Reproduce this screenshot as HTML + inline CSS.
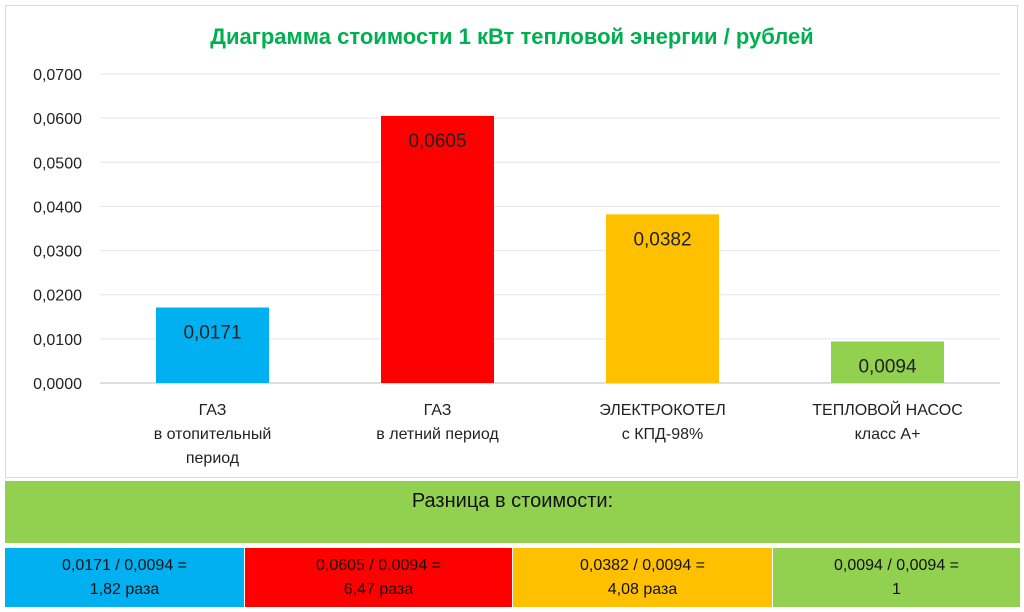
<!DOCTYPE html>
<html><head><meta charset="utf-8"><style>
body{margin:0;width:1024px;height:612px;background:#fff;font-family:"Liberation Sans","DejaVu Sans",sans-serif;position:relative;overflow:hidden}
.cell{position:absolute;top:548px;height:59px;display:flex;align-items:center;justify-content:center;text-align:center;font-size:16px;line-height:24px;color:#111}
</style></head><body>
<div style="position:absolute;left:5px;top:5px;width:1013px;height:473px;border:1px solid #d9d9d9;box-sizing:border-box"></div>
<svg width="1024" height="480" style="position:absolute;left:0;top:0">
<text x="512" y="44" text-anchor="middle" font-size="22" font-weight="bold" fill="#00b050" font-family="Liberation Sans,sans-serif">Диаграмма стоимости 1 кВт тепловой энергии / рублей</text>
<g id="grid"></g><g id="bars"></g><g id="labels"></g>
</svg>
<div style="position:absolute;left:5px;top:481px;width:1015px;height:62px;background:#92d050;text-align:center;font-size:20px;line-height:40px;color:#111">Разница в стоимости:</div>
<div class="cell" style="left:5px;width:239px;background:#00b0f0">0,0171 / 0,0094 =<br>1,82 раза</div>
<div class="cell" style="left:245px;width:267px;background:#ff0000">0,0605 / 0,0094 =<br>6,47 раза</div>
<div class="cell" style="left:513px;width:259px;background:#ffc000">0,0382 / 0,0094 =<br>4,08 раза</div>
<div class="cell" style="left:773px;width:247px;background:#92d050">0,0094 / 0,0094 =<br>1</div>
<script>
const categories=[["ГАЗ","в отопительный","период"],["ГАЗ","в летний период"],["ЭЛЕКТРОКОТЕЛ","с КПД-98%"],["ТЕПЛОВОЙ НАСОС","класс А+"]];
const values=[0.0171,0.0605,0.0382,0.0094];
const valueLabels=["0,0171","0,0605","0,0382","0,0094"];
const colors=["#00b0f0","#ff0000","#ffc000","#92d050"];
const ticks=[0,0.01,0.02,0.03,0.04,0.05,0.06,0.07];
const tickLabels=["0,0000","0,0100","0,0200","0,0300","0,0400","0,0500","0,0600","0,0700"];
const NS="http://www.w3.org/2000/svg";
const x0=100,x1=1000,y0=383,y7=74,max=0.07;
const y=v=>y0-(v/max)*(y0-y7);
const bw=(x1-x0)/categories.length;
function mk(t,a,p){const e=document.createElementNS(NS,t);for(const k in a)e.setAttribute(k,a[k]);p.appendChild(e);return e;}
const g=document.getElementById('grid'),b=document.getElementById('bars'),l=document.getElementById('labels');
ticks.forEach((t,i)=>{
 const ln=mk('line',{x1:x0,x2:x1,y1:y(t),y2:y(t),stroke:i==0?'#bfbfbf':'#e3e6ec','stroke-width':1},g);
 
 
 const tx=mk('text',{x:82,y:y(t)+6,'text-anchor':'end','font-size':16,fill:'#222'},g);
 tx.textContent=tickLabels[i];
 
 
});
values.forEach((v,i)=>{
 const cx=x0+bw*(i+0.5),w=113;
 const r=mk('rect',{x:cx-w/2,y:y(v),width:w,height:y0-y(v),fill:colors[i]},b);
 
 
 const vt=mk('text',{x:cx,y:y(v)+31,'text-anchor':'middle','font-size':19,fill:'#222'},l);
 vt.textContent=valueLabels[i];
 
 
 categories[i].forEach((s,j)=>{
  const ct=mk('text',{x:cx,y:415+j*24,'text-anchor':'middle','font-size':16,fill:'#222'},l);
  ct.textContent=s;
  
  
 });
});
</script>
</body></html>
